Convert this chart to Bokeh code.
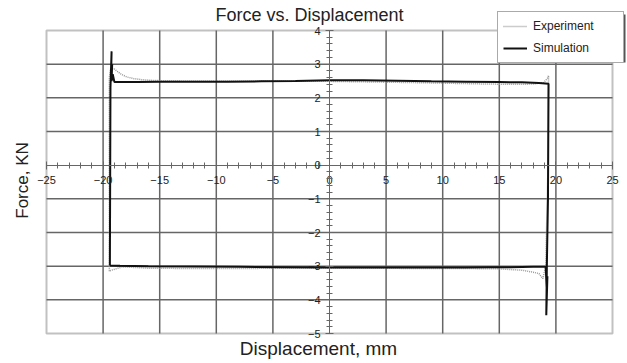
import math
from bokeh.plotting import figure
from bokeh.models import (Range1d, LinearAxis, FixedTicker, CustomJSTickFormatter,
                          Legend, LegendItem, Label, BoxAnnotation, ColumnDataSource)
from bokeh.embed import file_html
from bokeh.resources import INLINE

# ---- data ----
exp_disp = [-19.45, -19.45, -19.35, -19.1, -18.8, -18.4, -17.9, -17.3, -16.6, -15.8,
            -15.0, -12.0, -8.0, -4.0, 0.0, 4.0, 8.0, 11.0, 14.0, 16.5,
            18.0, 18.9, 19.3, 19.35, 19.3, 19.1, 18.85, 18.5, 18.0, 17.0,
            16.0, 15.0, 12.0, 8.0, 4.0, 0.0, -4.0, -8.0, -12.0, -16.0,
            -18.3, -19.35, -19.45]
exp_force = [-3.15, 2.6, 2.85, 2.88, 2.8, 2.7, 2.62, 2.57, 2.54, 2.52,
             2.51, 2.5, 2.5, 2.5, 2.49, 2.47, 2.45, 2.43, 2.41, 2.40,
             2.41, 2.45, 2.6, 2.66, 0.0, -3.0, -3.37, -3.22, -3.18, -3.12,
             -3.1, -3.08, -3.07, -3.07, -3.06, -3.06, -3.06, -3.07, -3.07, -3.06,
             -3.02, -3.13, -3.15]

sim_disp = [-19.4, -19.35, -19.25, -19.3, -19.2, -19.25, -19.15, -19.0, -17.0, -15.0,
            -12.0, -9.0, -6.0, -3.0, 0.0, 3.0, 6.0, 9.0, 12.0, 15.0,
            17.0, 18.5, 19.35, 19.3, 19.2, 19.15, 19.25, 19.2, 19.1, 18.0,
            16.0, 14.0, 12.0, 10.0, 7.0, 4.0, 0.0, -4.0, -8.0, -12.0,
            -16.0, -18.5, -19.4]
sim_force = [-2.98, 2.3, 3.38, 2.6, 3.0, 2.5, 2.7, 2.47, 2.47, 2.48,
             2.48, 2.48, 2.49, 2.5, 2.52, 2.52, 2.51, 2.49, 2.48, 2.47,
             2.46, 2.44, 2.42, -1.0, -3.0, -4.46, -3.3, -3.8, -3.02, -3.02,
             -3.03, -3.03, -3.04, -3.04, -3.04, -3.04, -3.04, -3.03, -3.02, -3.01,
             -3.0, -2.99, -2.98]

x_major_ticks = [-25, -20, -15, -10, -5, 0, 5, 10, 15, 20, 25]
y_major_ticks = [-5, -4, -3, -2, -1, 0, 1, 2, 3, 4]
x_grid_ticks = [-20, -15, -10, -5, 5, 10, 15, 20]
y_grid_ticks = [-4, -3, -2, -1, 1, 2, 3]

title_text = "Force vs. Displacement"
x_label = "Displacement, mm"
y_label = "Force, KN"
series_names = ["Experiment", "Simulation"]

# ---- layout (pixels of the canvas) ----
W, H = 627, 363
FL, FR, FT, FB = 46, 612, 30, 333          # plotting box in pixels
X0, X1 = x_major_ticks[0], x_major_ticks[-1]
Y0, Y1 = y_major_ticks[0], y_major_ticks[-1]
SX = (FR - FL) / (X1 - X0)
SY = (FB - FT) / (Y1 - Y0)


def px_x(px):
    return X0 + (px - FL) / SX


def px_y(py):
    return Y1 - (py - FT) / SY


x_minor_ticks = [X0 + i for i in range(int(X1 - X0) + 1)]
y_minor_ticks = [round(Y0 + 0.2 * i, 1) for i in range(int((Y1 - Y0) * 5) + 1)]

FONT = "Liberation Sans"
TXT = "#222222"

p = figure(width=W, height=H, output_backend="svg", toolbar_location=None,
           x_range=Range1d(px_x(0), px_x(W)), y_range=Range1d(px_y(H), px_y(0)),
           x_axis_location=None, y_axis_location=None,
           min_border_left=0, min_border_right=0, min_border_top=0, min_border_bottom=0)
p.background_fill_color = "white"
p.border_fill_color = "white"
p.outline_line_color = None
p.xgrid.visible = False
p.ygrid.visible = False

# plotting box
p.add_layout(BoxAnnotation(left=X0, right=X1, bottom=Y0, top=Y1, fill_color=None,
                           line_color="#333333", line_width=2, level="underlay"))

# grid lines limited to the plotting box
gx = ColumnDataSource(dict(x=x_grid_ticks, y0=[Y0] * len(x_grid_ticks), y1=[Y1] * len(x_grid_ticks)))
gy = ColumnDataSource(dict(y=y_grid_ticks, x0=[X0] * len(y_grid_ticks), x1=[X1] * len(y_grid_ticks)))
p.segment(x0="x", y0="y0", x1="x", y1="y1", source=gx, line_color="#666666", line_width=1.5)
p.segment(x0="x0", y0="y", x1="x1", y1="y", source=gy, line_color="#666666", line_width=1.5)

minus_fmt = CustomJSTickFormatter(code="return (tick < 0 ? '\u2212' : '') + Math.abs(tick);")

# central axes
xa = LinearAxis(fixed_location=0, bounds=(X0, X1),
                ticker=FixedTicker(ticks=x_major_ticks, minor_ticks=x_minor_ticks),
                formatter=minus_fmt)
ya = LinearAxis(fixed_location=0, bounds=(Y0, Y1),
                ticker=FixedTicker(ticks=y_major_ticks, minor_ticks=y_minor_ticks),
                formatter=minus_fmt)
for a in (xa, ya):
    a.axis_line_color = "#666666"
    a.axis_line_width = 1
    a.major_tick_line_color = "#666666"
    a.minor_tick_line_color = "#666666"
    a.major_tick_in = 4
    a.major_tick_out = 4
    a.minor_tick_in = 3
    a.minor_tick_out = 3
    a.major_label_text_font = FONT
    a.major_label_text_font_size = "11px"
    a.major_label_text_color = TXT
xa.major_label_standoff = 7
ya.major_label_standoff = 5
p.add_layout(xa, "below")
p.add_layout(ya, "left")

# texts
p.add_layout(Label(x=px_x(309), y=px_y(14), text=title_text, text_align="center",
                   text_baseline="alphabetic", text_font=FONT, text_font_size="18px",
                   text_color=TXT))
p.add_layout(Label(x=px_x(318), y=px_y(348), text=x_label, text_align="center",
                   text_baseline="alphabetic", text_font=FONT, text_font_size="19px",
                   text_color=TXT))
p.add_layout(Label(x=px_x(22), y=px_y(180), text=y_label, angle=math.pi / 2,
                   text_align="center", text_baseline="alphabetic", text_font=FONT,
                   text_font_size="17px", text_color=TXT))

# lines
r_exp = p.line(exp_disp, exp_force, line_color="#999999", line_width=1.5, line_dash="1 1")
r_sim = p.line(sim_disp, sim_force, line_color="#111111", line_width=2)

# legend shadow + legend
p.add_layout(BoxAnnotation(left=px_x(500), right=px_x(625), top=px_y(14), bottom=px_y(62),
                           fill_color="#555555", fill_alpha=1.0, line_color=None))
legend = Legend(items=[LegendItem(label=series_names[0], renderers=[r_exp]),
                       LegendItem(label=series_names[1], renderers=[r_sim])],
                location=(497, H - 11 - 52), orientation="vertical",
                label_text_font=FONT, label_text_font_size="12px", label_text_color=TXT,
                glyph_width=24, glyph_height=18, label_height=18, label_width=85,
                label_standoff=6, spacing=4, padding=5, margin=0,
                border_line_color="#555555", border_line_width=1,
                background_fill_color="white", background_fill_alpha=1.0)
p.add_layout(legend, "center")

open("out.html", "w").write(file_html(p, INLINE))
